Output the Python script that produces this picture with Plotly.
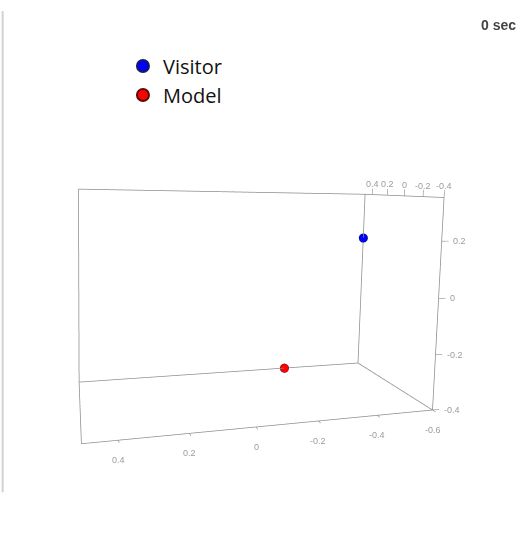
import math
import plotly.graph_objects as go

# Positions of the two tracked bodies at t = 0
names = ["Visitor", "Model"]
colors = ["#0000ff", "#ff0000"]
outline_colors = ["#141c5c", "#5a0c0c"]
xs = [-0.6, -0.28]
ys = [0.5, 0.5]
zs = [0.16, -0.4]

# Axis extents and tick values
x_lim = [0.5, -0.6]     # left side of the box, right side of the box
y_lim = [-0.4, 0.5]     # near side, far side
z_lim = [-0.4, 0.35]    # floor, top
x_ticks = [0.4, 0.2, 0, -0.2, -0.4, -0.6]
y_ticks = [0.4, 0.2, 0, -0.2, -0.4]
z_ticks = [0.2, 0, -0.2, -0.4]
time_label = "0 sec"
pad = 0.03

EDGE = "#8c8c8c"
TICK_FONT = dict(family="Liberation Sans", size=9, color="#9c9c9c")

fig = go.Figure()
xl, xr = x_lim
yn, yf = y_lim
zb, zt = z_lim

def segments(pairs, **kw):
    sx, sy, sz = [], [], []
    for a, b in pairs:
        sx += [a[0], b[0], None]
        sy += [a[1], b[1], None]
        sz += [a[2], b[2], None]
    return go.Scatter3d(x=sx, y=sy, z=sz, mode="lines", showlegend=False,
                        hoverinfo="skip", **kw)

# Outline of the back wall, the floor and the right-hand wall
edges = [
    ((xl, yf, zb), (xr, yf, zb)), ((xl, yf, zt), (xr, yf, zt)),
    ((xl, yf, zb), (xl, yf, zt)), ((xr, yf, zb), (xr, yf, zt)),
    ((xl, yn, zb), (xr, yn, zb)), ((xl, yn, zb), (xl, yf, zb)),
    ((xr, yn, zb), (xr, yf, zb)), ((xr, yn, zb), (xr, yn, zt)),
    ((xr, yn, zt), (xr, yf, zt)),
]
fig.add_trace(segments(edges, line=dict(color=EDGE, width=1.5)))

# Tick marks: x along the near floor edge, y along the top of the right
# wall, z up the near right-hand edge
ticks = ([((t, yn, zb), (t, yn - 0.04, zb)) for t in x_ticks]
         + [((xr, t, zt), (xr, t, zt + 0.025)) for t in y_ticks]
         + [((xr, yn, t), (xr - 0.025, yn, t)) for t in z_ticks])
fig.add_trace(segments(ticks, line=dict(color=EDGE, width=1.2)))

for i, name in enumerate(names):
    fig.add_trace(go.Scatter3d(
        x=[xs[i]], y=[ys[i]], z=[zs[i]],
        mode="markers", name=name,
        marker=dict(size=5, color=colors[i],
                    line=dict(color=outline_colors[i], width=1)),
    ))

# Tick labels anchored to the tick positions in data space
labels = (
    [dict(x=t, y=yn, z=zb, text=f"{t:g}", yshift=-20, xanchor="center")
     for t in x_ticks]
    + [dict(x=xr, y=t, z=zt, text=f"{t:g}", yshift=11, xanchor="center")
       for t in y_ticks]
    + [dict(x=xr, y=yn, z=t, text=f"{t:g}", xshift=9, xanchor="left")
       for t in z_ticks]
)
for lab in labels:
    lab.update(showarrow=False, font=TICK_FONT, yanchor="middle")

def axis(lim):
    lo, hi = min(lim), max(lim)
    rng = [lo - pad, hi + pad]
    if lim[0] > lim[1]:
        rng = rng[::-1]
    return dict(
        range=rng, autorange=False,
        showgrid=False, zeroline=False, showspikes=False,
        showbackground=True, backgroundcolor="white",
        showline=False, showticklabels=False, ticks="",
        title=dict(text=""),
    )

# Camera: turned to the right, tilted down and rolled a little, with the
# box sitting below and to the right of the line of sight.
yaw, pitch, roll = math.radians(15.5), math.radians(5.2), math.radians(1.2)
fwd = (math.sin(yaw) * math.cos(pitch), math.cos(yaw) * math.cos(pitch), -math.sin(pitch))
right = (math.cos(yaw), -math.sin(yaw), 0.0)
upc = (math.sin(yaw) * math.sin(pitch), math.cos(yaw) * math.sin(pitch), math.cos(pitch))
depth, shift_r, shift_d = 3.4, 0.12, 0.34
eye = [-(depth * f + shift_r * r - shift_d * u) for f, r, u in zip(fwd, right, upc)]
ctr = [e + depth * f for e, f in zip(eye, fwd)]
up = [math.cos(roll) * u - math.sin(roll) * r for u, r in zip(upc, right)]

fig.update_layout(
    width=530, height=547,
    margin=dict(l=0, r=0, t=0, b=0),
    paper_bgcolor="white",
    showlegend=True,
    legend=dict(
        x=0.232, y=0.915, xanchor="left", yanchor="top",
        bgcolor="white", itemsizing="constant",
        font=dict(family="Open Sans", size=20, color="#111"),
    ),
    scene=dict(
        domain=dict(x=[0.0, 0.87], y=[0.13, 1.0]),
        xaxis=axis(x_lim),
        yaxis=axis(y_lim),
        zaxis=axis(z_lim),
        aspectmode="manual",
        aspectratio=dict(x=2.05, y=0.95, z=1.31),
        camera=dict(eye=dict(x=eye[0], y=eye[1], z=eye[2]),
                    center=dict(x=ctr[0], y=ctr[1], z=ctr[2]),
                    up=dict(x=up[0], y=up[1], z=up[2])),
        bgcolor="white",
        annotations=labels,
    ),
    shapes=[dict(type="line", xref="paper", yref="paper",
                 x0=0.005, x1=0.005, y0=0.1, y1=0.98,
                 line=dict(color="#d2d2d2", width=2))],
    annotations=[dict(
        text=f"<b>{time_label}</b>", x=0.977, y=0.954, xref="paper", yref="paper",
        xanchor="right", yanchor="middle", showarrow=False,
        font=dict(family="Liberation Sans", size=14, color="#444"),
    )],
)

fig.write_html("out.html")
